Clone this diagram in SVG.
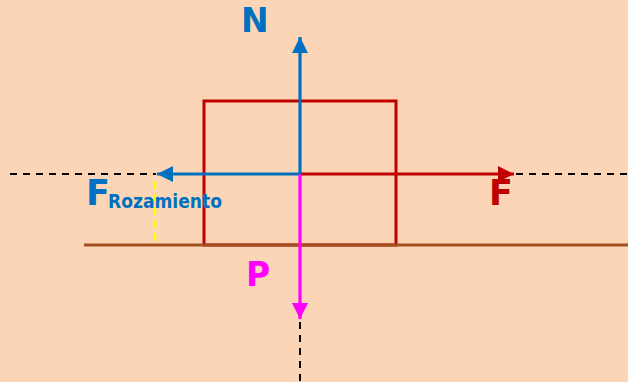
<svg xmlns="http://www.w3.org/2000/svg" width="628" height="382" viewBox="0 0 628 382">
<style>
.dash{stroke:#000;stroke-width:2;stroke-dasharray:7,6;fill:none}
.lbl{font-family:"DejaVu Sans",sans-serif;font-weight:bold}
</style>
<defs>
<marker id="ab" viewBox="0 0 10 10" refX="10" refY="5" markerWidth="5" markerHeight="5" orient="auto" markerUnits="strokeWidth"><path d="M0,0 L10,5 L0,10 z" fill="#0070C0"/></marker>
<marker id="ar" viewBox="0 0 10 10" refX="10" refY="5" markerWidth="5" markerHeight="5" orient="auto" markerUnits="strokeWidth"><path d="M0,0 L10,5 L0,10 z" fill="#C00000"/></marker>
<marker id="am" viewBox="0 0 10 10" refX="10" refY="5" markerWidth="5" markerHeight="5" orient="auto" markerUnits="strokeWidth"><path d="M0,0 L10,5 L0,10 z" fill="#FF00FF"/></marker>
</defs>
<rect width="628" height="382" fill="#FBD5B5"/>
<g id="block"><rect x="204" y="101" width="192" height="144" fill="none" stroke="#C00000" stroke-width="3"/></g>
<g id="ground"><line x1="84" y1="245" x2="628" y2="245" stroke="#A0521E" stroke-width="3"/></g>
<g id="connectors">
<line class="dash" x1="10" y1="174" x2="156" y2="174"/>
<line class="dash" x1="516" y1="174" x2="628" y2="174"/>
<line class="dash" x1="300" y1="322" x2="300" y2="382"/>
<line x1="155" y1="181" x2="155" y2="245" stroke="#FFFF00" stroke-width="2.5" stroke-dasharray="8,5"/>
<line x1="300" y1="174" x2="514" y2="174" stroke="#C00000" stroke-width="3.2" marker-end="url(#ar)"/>
<line x1="300" y1="174" x2="157" y2="174" stroke="#0070C0" stroke-width="3.2" marker-end="url(#ab)"/>
<line x1="300" y1="174" x2="300" y2="319" stroke="#FF00FF" stroke-width="3.2" marker-end="url(#am)"/>
<line x1="300" y1="174" x2="300" y2="37" stroke="#0070C0" stroke-width="3.2" marker-end="url(#ab)"/>
</g>
<g id="labels">
<text class="lbl" x="241" y="32" font-size="33" fill="#0070C0">N</text>
<text class="lbl" x="489" y="205" font-size="35" fill="#C00000">F</text>
<text class="lbl" x="246" y="286" font-size="33" fill="#FF00FF">P</text>
<text class="lbl" x="86" y="205" font-size="35" fill="#0070C0">F</text>
<text class="lbl" x="108" y="208" font-size="20" fill="#0070C0" textLength="114" lengthAdjust="spacingAndGlyphs">Rozamiento</text>
</g>
</svg>
